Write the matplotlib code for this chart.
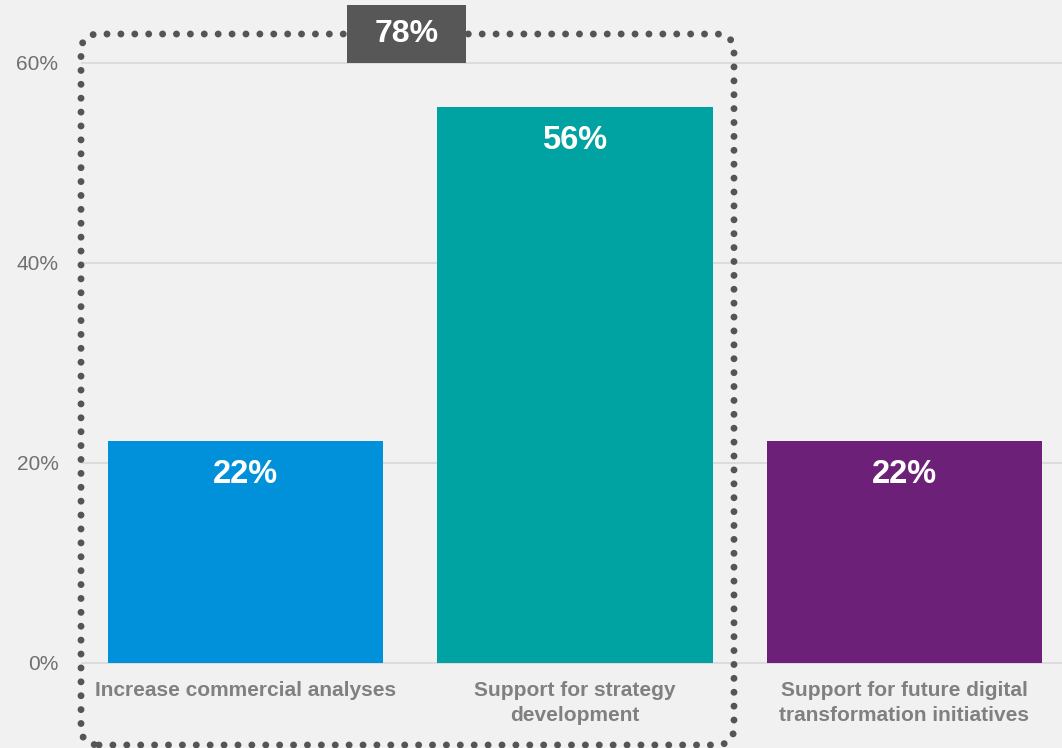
import matplotlib.pyplot as plt
from matplotlib.patches import FancyBboxPatch
from matplotlib.transforms import IdentityTransform

categories = ["Increase commercial analyses",
              "Support for strategy\ndevelopment",
              "Support for future digital\ntransformation initiatives"]
values = [22.2, 55.6, 22.2]
colors = ["#0091da", "#00a3a1", "#6d2077"]
yticks = [0, 20, 40, 60]
combined = values[0] + values[1]

bg = "#f1f1f1"
plt.rcParams["font.family"] = ["Liberation Sans", "DejaVu Sans"]

fig = plt.figure(figsize=(10.62, 7.48), dpi=100, facecolor=bg)
ax = fig.add_axes([82 / 1062, 85 / 748, 980 / 1062, 600 / 748])
ax.set_facecolor(bg)

x = range(len(categories))
ax.bar(x, values, width=0.835, color=colors, zorder=2)

ax.set_xlim(-0.496, 2.478)
ax.set_ylim(0, 60)
for s in ax.spines.values():
    s.set_visible(False)
for t in yticks:
    ax.axhline(t, color="#dcdcdc", lw=1.5, zorder=1, clip_on=False)

ax.set_yticks(yticks)
ax.set_yticklabels([f"{t}%" for t in yticks], color="#707070", fontsize=15)
ax.tick_params(axis="y", length=0, pad=17)
ax.set_xticks([])

# value labels inside the bars
for i, v in enumerate(values):
    ax.annotate(f"{v:.0f}%", (i, v), xytext=(0, -24), textcoords="offset points",
                ha="center", va="center", color="white", fontsize=23.5,
                fontweight="bold", zorder=3)

# category labels under the axis
for i, c in enumerate(categories):
    ax.annotate(c, (i, 0), xytext=(0, -13), textcoords="offset points",
                ha="center", va="top", color="#808080", fontsize=15,
                fontweight="bold", linespacing=1.4, annotation_clip=False)

# dotted box around the first two bars
fig.canvas.draw()
x0, y0 = ax.transData.transform((-0.499, -8.2))
x1, y1 = ax.transData.transform((1.4826, 62.9))
box = FancyBboxPatch((x0, y0), x1 - x0, y1 - y0,
                     boxstyle="round,pad=0,rounding_size=18",
                     transform=IdentityTransform(), fill=False,
                     edgecolor="#555555", lw=5,
                     linestyle=(0, (0.001, 2.0)), zorder=4, clip_on=False)
box.set_capstyle("round")
ax.add_patch(box)

# combined total tag sitting on the top edge of the box
cx, cy = ax.transData.transform((0.49, 62.9))
tag = FancyBboxPatch((cx - 59.5, cy - 29), 119, 58, boxstyle="square,pad=0",
                     transform=IdentityTransform(), fc="#575757", ec="none",
                     zorder=5, clip_on=False)
ax.add_patch(tag)
ax.text(0.49, 62.9, f"{combined:.0f}%", ha="center", va="center",
        color="white", fontsize=23, fontweight="bold", zorder=6, clip_on=False)

fig.savefig("out.png", dpi=100, facecolor=bg)
